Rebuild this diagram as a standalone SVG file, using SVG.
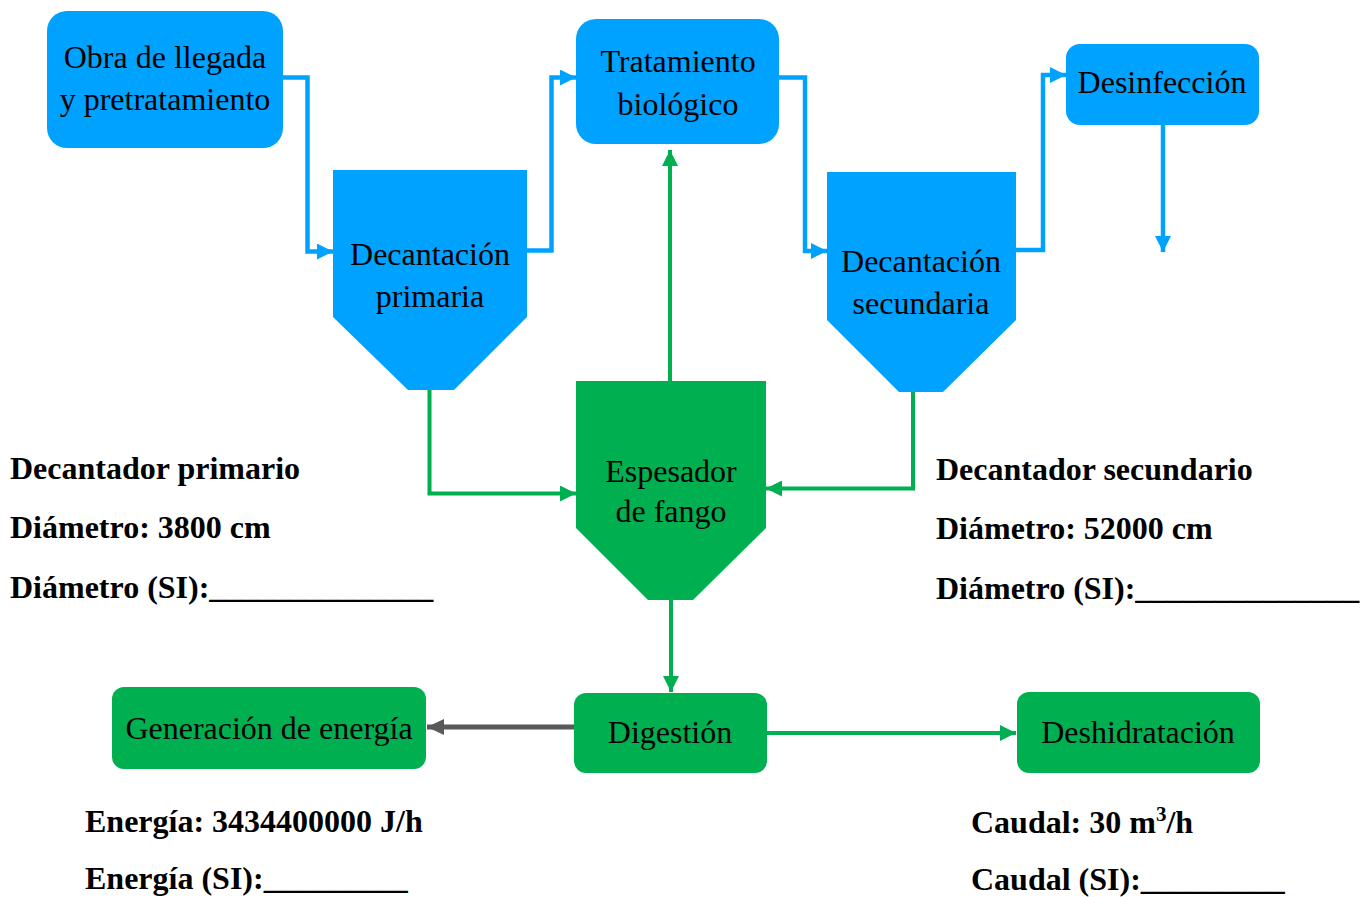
<svg xmlns="http://www.w3.org/2000/svg" width="1370" height="897" viewBox="0 0 1370 897">
<defs>
<style>
.blue{fill:#00A2FF}
.green{fill:#00B050}
.t{font-family:"Liberation Serif","Times New Roman",serif;font-size:32px;fill:#000;text-anchor:middle}
.b{font-family:"Liberation Serif","Times New Roman",serif;font-size:32px;font-weight:bold;fill:#000}
.cb{fill:none;stroke:#00A2FF;stroke-width:4.5}
.cg{fill:none;stroke:#00B050;stroke-width:4}
.cy{fill:none;stroke:#595959;stroke-width:5}
</style>
<marker id="ab" markerUnits="userSpaceOnUse" markerWidth="16" markerHeight="16" refX="16" refY="8" orient="auto" viewBox="0 0 16 16"><path d="M0,0 L16,8 L0,16 Z" fill="#00A2FF"/></marker>
<marker id="ag" markerUnits="userSpaceOnUse" markerWidth="16" markerHeight="16" refX="16" refY="8" orient="auto" viewBox="0 0 16 16"><path d="M0,0 L16,8 L0,16 Z" fill="#00B050"/></marker>
<marker id="ay" markerUnits="userSpaceOnUse" markerWidth="17" markerHeight="16" refX="17" refY="8" orient="auto" viewBox="0 0 17 16"><path d="M0,0 L17,8 L0,16 Z" fill="#595959"/></marker>
</defs>
<rect width="1370" height="897" fill="#fff"/>

<g id="connectors">
<path class="cb" d="M283,77.5 H307.5 V251.5 H333" marker-end="url(#ab)"/>
<path class="cb" d="M527,250.5 H551.5 V77.5 H576" marker-end="url(#ab)"/>
<path class="cb" d="M779,77.5 H805 V251 H827" marker-end="url(#ab)"/>
<path class="cb" d="M1016,250 H1043 V75 H1066" marker-end="url(#ab)"/>
<path class="cb" d="M1163,125 V252" marker-end="url(#ab)"/>
<path class="cg" d="M670,381 V150" marker-end="url(#ag)"/>
<path class="cg" d="M429.5,389 V493.5 H576" marker-end="url(#ag)"/>
<path class="cg" d="M913,392 V488.5 H766" marker-end="url(#ag)"/>
<path class="cg" d="M671,600 V692" marker-end="url(#ag)"/>
<path class="cg" d="M767,733 H1016" marker-end="url(#ag)"/>
<path class="cy" d="M574,727 H427" marker-end="url(#ay)"/>
</g>

<g id="obra">
<rect class="blue" x="47" y="11" width="236" height="137" rx="20"/>
<text class="t" x="165" y="68">Obra de llegada</text>
<text class="t" x="165" y="110">y pretratamiento</text>
</g>

<g id="tratamiento">
<rect class="blue" x="576" y="19" width="203" height="125" rx="20"/>
<text class="t" x="678" y="72">Tratamiento</text>
<text class="t" x="678" y="115">biológico</text>
</g>

<g id="desinfeccion">
<rect class="blue" x="1066" y="44" width="193" height="81" rx="14"/>
<text class="t" x="1162" y="93">Desinfección</text>
</g>

<g id="decantacion-primaria">
<path class="blue" d="M333,170 H527 V317 L454,390 H408 L333,317 Z"/>
<text class="t" x="430" y="265">Decantación</text>
<text class="t" x="430" y="307">primaria</text>
</g>

<g id="decantacion-secundaria">
<path class="blue" d="M827,172 H1016 V320 L943,392 H899 L827,320 Z"/>
<text class="t" x="921" y="272">Decantación</text>
<text class="t" x="921" y="314">secundaria</text>
</g>

<g id="espesador">
<path class="green" d="M576,381 H766 V528 L693,600 H648 L576,528 Z"/>
<text class="t" x="671" y="482">Espesador</text>
<text class="t" x="671" y="522">de fango</text>
</g>

<g id="digestion">
<rect class="green" x="574" y="693" width="193" height="80" rx="12"/>
<text class="t" x="670" y="743">Digestión</text>
</g>

<g id="generacion">
<rect class="green" x="112" y="687" width="314" height="82" rx="12"/>
<text class="t" x="269" y="739">Generación de energía</text>
</g>

<g id="deshidratacion">
<rect class="green" x="1017" y="692" width="243" height="81" rx="12"/>
<text class="t" x="1138" y="743">Deshidratación</text>
</g>

<g id="labels">
<text class="b" x="10" y="479">Decantador primario</text>
<text class="b" x="10" y="538">Diámetro: 3800 cm</text>
<text class="b" x="10" y="598">Diámetro (SI):______________</text>
<text class="b" x="936" y="480">Decantador secundario</text>
<text class="b" x="936" y="539">Diámetro: 52000 cm</text>
<text class="b" x="936" y="599">Diámetro (SI):______________</text>
<text class="b" x="85" y="832">Energía: 3434400000 J/h</text>
<text class="b" x="85" y="889">Energía (SI):_________</text>
<text class="b" x="971" y="833">Caudal: 30 m<tspan font-size="21" dy="-12">3</tspan><tspan dy="12">/h</tspan></text>
<text class="b" x="971" y="890">Caudal (SI):_________</text>
</g>
</svg>
